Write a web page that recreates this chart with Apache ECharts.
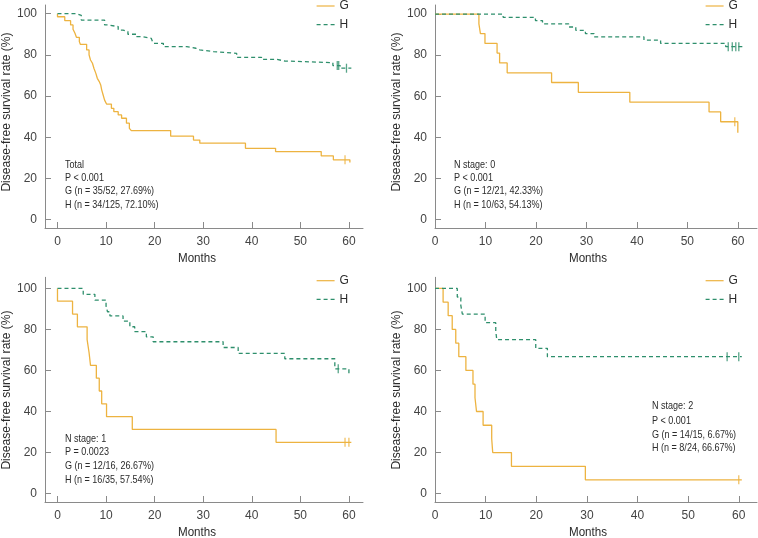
<!DOCTYPE html>
<html>
<head>
<meta charset="utf-8">
<script src="https://cdn.jsdelivr.net/npm/echarts@6/dist/echarts.min.js"></script>
<style>html,body{margin:0;padding:0;background:#fff}#c{width:758px;height:538px}</style>
</head>
<body>
<div id="c"></div>
<script>
const xTicks = [0, 10, 20, 30, 40, 50, 60];
const yTicks = [0, 20, 40, 60, 80, 100];
const xName = 'Months';
const yName = 'Disease-free survival rate (%)';
const groups = ['G', 'H'];

// Panel 1: Total
const g1Time = [0, 0, 1.5, 2.7, 3.2, 3.6, 3.9, 4.5, 4.7, 6.0, 6.5, 6.8, 7.2, 7.5, 7.9, 8.2, 8.6, 8.9, 9.1, 9.4, 9.7, 10.1, 11.1, 11.6, 12.5, 13.2, 14.2, 14.8, 15.2, 23.3, 28.0, 29.3, 38.7, 44.9, 54.3, 56.8, 60.2, 60.2];
const g1Surv = [100, 98.5, 96.6, 94.5, 92.4, 90.5, 88.5, 86.4, 85.1, 82.4, 80.0, 77.5, 75.9, 73.5, 71.0, 68.6, 67.0, 65.4, 63.0, 60.5, 58.0, 56.1, 54.0, 52.4, 50.8, 49.2, 46.8, 44.3, 43.2, 40.5, 38.6, 37.1, 34.6, 33.0, 30.9, 29.0, 29.0, 27.7];
const g1CensTime = [59.2];
const g1CensSurv = [29.0];
const h1Time = [0, 3.9, 4.9, 9.7, 10.5, 12.5, 13.5, 14.5, 16.3, 17.5, 19.3, 19.7, 21.8, 26.6, 28.5, 29.3, 32.1, 36.9, 42.0, 45.1, 46.8, 56.7, 58.2, 60.5];
const h1Surv = [100, 99.2, 96.9, 94.5, 93.7, 92.0, 91.3, 90.0, 88.8, 88.0, 87.2, 85.6, 84.0, 83.2, 82.4, 81.6, 80.7, 78.8, 77.8, 77.0, 76.2, 74.8, 73.5, 73.5];
const h1CensTime = [57.6, 57.9, 59.5];
const h1CensSurv = [74.8, 74.8, 73.5];
const note1 = ['Total', 'P < 0.001', 'G (n = 35/52, 27.69%)', 'H (n = 34/125, 72.10%)'];

// Panel 2: N stage 0
const g2Time = [0, 8.7, 9.0, 9.9, 12.3, 12.8, 14.3, 23.1, 28.4, 38.6, 54.3, 56.6, 60, 60];
const g2Surv = [100, 95.2, 90.5, 85.7, 81.0, 76.2, 71.4, 66.7, 61.9, 57.1, 52.4, 47.6, 47.6, 42.3];
const g2CensTime = [59.4];
const g2CensSurv = [47.6];
const h2Time = [0, 13.5, 19.9, 21.3, 26.5, 27.9, 29.8, 31.5, 41.4, 44.7, 57.6, 61.0];
const h2Surv = [100, 98.4, 96.8, 95.2, 93.7, 92.1, 90.5, 88.9, 87.3, 85.7, 84.1, 84.1];
const h2CensTime = [58.1, 58.9, 59.6, 60.2];
const h2CensSurv = [84.1, 84.1, 84.1, 84.1];
const note2 = ['N stage: 0', 'P < 0.001', 'G (n = 12/21, 42.33%)', 'H (n = 10/63, 54.13%)'];

// Panel 3: N stage 1
const g3Time = [0, 0, 3.1, 4.1, 6.1, 6.5, 6.8, 8.0, 8.6, 9.1, 10.1, 15.4, 45.0, 60.5];
const g3Surv = [100, 93.75, 87.5, 81.25, 75, 68.75, 62.5, 56.25, 50, 43.75, 37.5, 31.25, 25, 25];
const g3CensTime = [59.2, 60];
const g3CensSurv = [25, 25];
const h3Time = [0, 5.3, 7.7, 10.0, 10.3, 10.8, 13.5, 14.9, 15.9, 18.3, 19.7, 34.1, 37.2, 46.8, 57.1, 60, 60];
const h3Surv = [100, 97.1, 94.3, 91.4, 88.6, 86.6, 84.0, 81.3, 78.9, 76.4, 74.0, 71.2, 68.3, 65.7, 60.8, 60.8, 57.5];
const h3CensTime = [57.8];
const h3CensSurv = [60.8];
const note3 = ['N stage: 1', 'P = 0.0023', 'G (n = 12/16, 26.67%)', 'H (n = 16/35, 57.54%)'];

// Panel 4: N stage 2
const g4Time = [0, 1.6, 2.6, 3.4, 4.1, 4.7, 6.1, 7.5, 7.9, 8.2, 9.5, 11.2, 11.4, 15.1, 29.7, 60.6];
const g4Surv = [100, 93.3, 86.7, 80.0, 73.3, 66.7, 60.0, 53.3, 46.7, 40.0, 33.3, 26.7, 20.0, 13.3, 6.7, 6.7];
const g4CensTime = [60];
const g4CensSurv = [6.7];
const h4Time = [0, 4.4, 5.1, 5.4, 9.9, 12.0, 12.2, 19.9, 22.2, 60.6];
const h4Surv = [100, 95.8, 91.7, 87.5, 83.3, 79.2, 75.0, 70.8, 66.7, 66.7];
const h4CensTime = [57.7, 60];
const h4CensSurv = [66.7, 66.7];
const note4 = ['N stage: 2', 'P < 0.001', 'G (n = 14/15, 6.67%)', 'H (n = 8/24, 66.67%)'];

const FONT = "'Liberation Sans', Arial, sans-serif";
const G_COLOR = '#EDB340';
const H_COLOR = '#2E8F6C';
const AXIS_COLOR = '#8a8a8a';
const TEXT_COLOR = '#2b2b2b';

const zip = (a, b) => a.map((v, i) => [v, b[i]]);

const panels = [
  { grid: { left: 45, top: 5, width: 318, height: 223 }, x: [-2.57, 62.9], y: [-4.1, 104.2],
    g: [g1Time, g1Surv], gc: [g1CensTime, g1CensSurv], h: [h1Time, h1Surv], hc: [h1CensTime, h1CensSurv],
    legend: { left: 316, top: 0 }, note: note1, noteX: 65, noteY: [164.7, 178.3, 191.5, 205],
    xNamePos: [197, 258], yNamePos: [6.5, 112] },
  { grid: { left: 435, top: 5, width: 322, height: 223 }, x: [0, 63.8], y: [-4.1, 104.4],
    g: [g2Time, g2Surv], gc: [g2CensTime, g2CensSurv], h: [h2Time, h2Surv], hc: [h2CensTime, h2CensSurv],
    legend: { left: 705, top: 0 }, note: note2, noteX: 454, noteY: [164.7, 178.3, 191.5, 205],
    xNamePos: [588, 258], yNamePos: [396.5, 112] },
  { grid: { left: 45, top: 277.3, width: 318, height: 224.7 }, x: [-2.57, 62.9], y: [-4.1, 105.4],
    g: [g3Time, g3Surv], gc: [g3CensTime, g3CensSurv], h: [h3Time, h3Surv], hc: [h3CensTime, h3CensSurv],
    legend: { left: 316, top: 274.7 }, note: note3, noteX: 65, noteY: [439, 452.5, 466.3, 479.7],
    xNamePos: [197, 532], yNamePos: [6.5, 390] },
  { grid: { left: 435, top: 277.3, width: 322, height: 224.7 }, x: [0, 63.6], y: [-4.1, 105.4],
    g: [g4Time, g4Surv], gc: [g4CensTime, g4CensSurv], h: [h4Time, h4Surv], hc: [h4CensTime, h4CensSurv],
    legend: { left: 705, top: 274.7 }, note: note4, noteX: 652, noteY: [405.7, 420.7, 434.7, 448],
    xNamePos: [588, 532], yNamePos: [396.5, 390] }
];

const option = {
  animation: false,
  backgroundColor: '#fff',
  textStyle: { fontFamily: FONT },
  grid: [], xAxis: [], yAxis: [], series: [], legend: [], graphic: []
};

panels.forEach((p, i) => {
  option.grid.push(Object.assign({ containLabel: false }, p.grid));
  option.xAxis.push({
    type: 'value', gridIndex: i, min: p.x[0], max: p.x[1],
    axisLine: { show: true, onZero: false, lineStyle: { color: AXIS_COLOR, width: 1 } },
    axisTick: { show: true, inside: true, length: 6, customValues: xTicks, lineStyle: { color: AXIS_COLOR } },
    axisLabel: { customValues: xTicks, margin: 8, fontSize: 12, color: '#444', fontFamily: FONT },
    splitLine: { show: false }
  });
  option.yAxis.push({
    type: 'value', gridIndex: i, min: p.y[0], max: p.y[1],
    axisLine: { show: true, onZero: false, lineStyle: { color: AXIS_COLOR, width: 1 } },
    axisTick: { show: true, inside: true, length: 6, customValues: yTicks, lineStyle: { color: AXIS_COLOR } },
    axisLabel: { customValues: yTicks, margin: 8, fontSize: 12, color: '#444', fontFamily: FONT },
    splitLine: { show: false }
  });
  option.series.push({
    name: 'G', type: 'line', xAxisIndex: i, yAxisIndex: i, step: 'end', symbol: 'none',
    data: zip(p.g[0], p.g[1]), color: G_COLOR,
    lineStyle: { color: G_COLOR, width: 1.3 }
  });
  option.series.push({
    name: 'H', type: 'line', xAxisIndex: i, yAxisIndex: i, step: 'end', symbol: 'none',
    data: zip(p.h[0], p.h[1]), color: H_COLOR,
    lineStyle: { color: H_COLOR, width: 1.3, type: [4, 3] }
  });
  option.series.push({
    name: 'G censored', type: 'scatter', xAxisIndex: i, yAxisIndex: i,
    symbol: 'rect', symbolSize: [1.3, 9], itemStyle: { color: G_COLOR },
    data: zip(p.gc[0], p.gc[1])
  });
  option.series.push({
    name: 'H censored', type: 'scatter', xAxisIndex: i, yAxisIndex: i,
    symbol: 'rect', symbolSize: [1.3, 9], itemStyle: { color: H_COLOR },
    data: zip(p.hc[0], p.hc[1])
  });
  option.legend.push({
    data: groups, orient: 'vertical', left: p.legend.left, top: p.legend.top,
    itemWidth: 18, itemHeight: 10, itemGap: 6.6, padding: 0, selectedMode: false,
    itemStyle: { opacity: 0, borderWidth: 0 },
    lineStyle: { width: 1.2 },
    textStyle: { fontSize: 12, color: TEXT_COLOR, fontFamily: FONT }
  });
  p.note.forEach((t, k) => {
    option.graphic.push({
      type: 'text', x: p.noteX, y: p.noteY[k], scaleX: 0.86,
      style: { text: t, fontSize: 10.5, fill: TEXT_COLOR, fontFamily: FONT, align: 'left', verticalAlign: 'middle' }
    });
  });
  option.graphic.push({
    type: 'text', x: p.xNamePos[0], y: p.xNamePos[1], scaleX: 0.86,
    style: { text: xName, fontSize: 13.5, fill: TEXT_COLOR, fontFamily: FONT, align: 'center', verticalAlign: 'middle' }
  });
  option.graphic.push({
    type: 'text', x: p.yNamePos[0], y: p.yNamePos[1], rotation: Math.PI / 2, scaleX: 0.93,
    style: { text: yName, fontSize: 13, fill: TEXT_COLOR, fontFamily: FONT, align: 'center', verticalAlign: 'middle' }
  });
});

const chart = echarts.init(document.getElementById('c'), null, { renderer: 'canvas' });
chart.setOption(option);
</script>
</body>
</html>
